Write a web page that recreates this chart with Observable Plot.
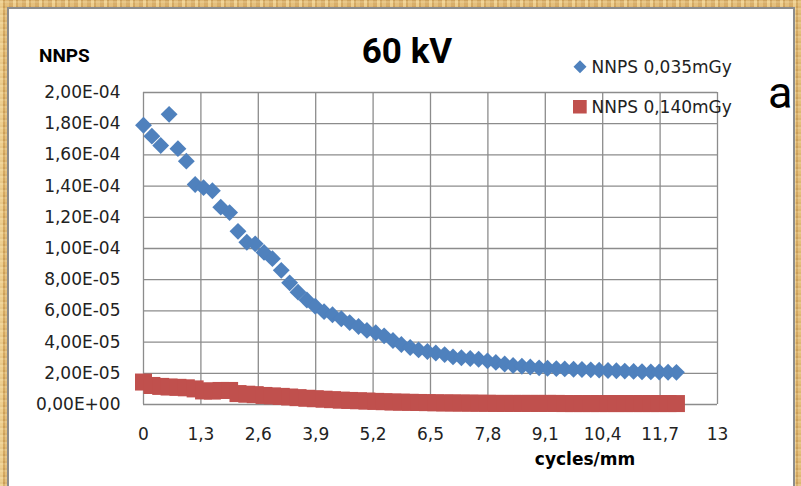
<!DOCTYPE html>
<html>
<head>
<meta charset="utf-8">
<script src="https://cdn.jsdelivr.net/npm/d3@7"></script>
<script src="https://cdn.jsdelivr.net/npm/@observablehq/plot@0.6"></script>
<style>
html, body { margin: 0; padding: 0; }
body {
  width: 801px; height: 486px; overflow: hidden;
  background-color: #dcb672;
  background-image:
    repeating-linear-gradient(90deg, rgba(250,225,165,0.55) 0 3px, rgba(190,140,65,0.35) 3px 5px, rgba(235,200,135,0.45) 5px 9px, rgba(200,150,80,0.3) 9px 13px),
    repeating-linear-gradient(0deg, rgba(250,232,185,0.35) 0 2px, rgba(180,130,60,0.25) 2px 4px, rgba(230,190,120,0.3) 4px 7px);
}
#wrap { position: relative; width: 801px; height: 486px; }
#panel {
  position: absolute; left: 7px; top: 7px; width: 788px; height: 479px;
  background: #fff; box-sizing: border-box;
  border-left: 2px solid #8c8c8c; border-top: 2px solid #8c8c8c; border-right: 2px solid #8c8c8c;
}
#chart, #overlay { position: absolute; left: 0; top: 0; }
</style>
</head>
<body>
<div id="wrap">
  <div id="panel"></div>
  <div id="chart"></div>
  <svg id="overlay" width="801" height="486"></svg>
</div>
<script>
// ---- data ----
const freq = [0, 0.19, 0.39, 0.58, 0.78, 0.97, 1.17, 1.36, 1.56, 1.75, 1.95, 2.14, 2.34, 2.53, 2.73, 2.92,
  3.12, 3.31, 3.50, 3.70, 3.89, 4.09, 4.28, 4.48, 4.67, 4.87, 5.06, 5.26, 5.45, 5.65, 5.84, 6.04, 6.23,
  6.43, 6.62, 6.82, 7.01, 7.20, 7.40, 7.59, 7.79, 7.98, 8.18, 8.37, 8.57, 8.76, 8.96, 9.15, 9.35, 9.54,
  9.74, 9.93, 10.13, 10.32, 10.52, 10.71, 10.90, 11.10, 11.29, 11.49, 11.68, 11.88, 12.07];

const nnps035 = [1.79e-4, 1.72e-4, 1.66e-4, 1.86e-4, 1.64e-4, 1.56e-4, 1.41e-4, 1.39e-4, 1.37e-4, 1.265e-4,
  1.23e-4, 1.11e-4, 1.04e-4, 1.03e-4, 0.975e-4, 0.935e-4, 0.86e-4, 0.78e-4, 0.72e-4, 0.67e-4, 0.63e-4,
  0.595e-4, 0.575e-4, 0.55e-4, 0.525e-4, 0.50e-4, 0.475e-4, 0.46e-4, 0.44e-4, 0.41e-4, 0.385e-4, 0.365e-4,
  0.35e-4, 0.34e-4, 0.33e-4, 0.32e-4, 0.305e-4, 0.30e-4, 0.295e-4, 0.29e-4, 0.28e-4, 0.27e-4, 0.26e-4,
  0.25e-4, 0.245e-4, 0.24e-4, 0.235e-4, 0.232e-4, 0.23e-4, 0.228e-4, 0.226e-4, 0.224e-4, 0.222e-4,
  0.22e-4, 0.218e-4, 0.216e-4, 0.214e-4, 0.212e-4, 0.21e-4, 0.209e-4, 0.208e-4, 0.207e-4, 0.206e-4];

const nnps140 = [1.44e-5, 1.22e-5, 1.16e-5, 1.12e-5, 1.10e-5, 1.07e-5, 1.00e-5, 0.87e-5, 0.86e-5, 0.90e-5,
  0.90e-5, 0.70e-5, 0.66e-5, 0.63e-5, 0.58e-5, 0.55e-5, 0.52e-5, 0.48e-5, 0.44e-5, 0.40e-5, 0.37e-5,
  0.34e-5, 0.31e-5, 0.28e-5, 0.26e-5, 0.24e-5, 0.22e-5, 0.20e-5, 0.18e-5, 0.16e-5, 0.15e-5, 0.14e-5,
  0.13e-5, 0.12e-5, 0.11e-5, 0.10e-5, 0.10e-5, 0.09e-5, 0.09e-5, 0.08e-5, 0.08e-5, 0.07e-5, 0.07e-5,
  0.07e-5, 0.07e-5, 0.07e-5, 0.07e-5, 0.07e-5, 0.07e-5, 0.06e-5, 0.06e-5, 0.06e-5, 0.06e-5, 0.06e-5,
  0.06e-5, 0.06e-5, 0.06e-5, 0.06e-5, 0.06e-5, 0.06e-5, 0.06e-5, 0.06e-5, 0.06e-5];

const xTicks = [0, 1.3, 2.6, 3.9, 5.2, 6.5, 7.8, 9.1, 10.4, 11.7, 13];
const xTickLabels = ["0", "1,3", "2,6", "3,9", "5,2", "6,5", "7,8", "9,1", "10,4", "11,7", "13"];
const yTicks = [0, 2e-5, 4e-5, 6e-5, 8e-5, 1e-4, 1.2e-4, 1.4e-4, 1.6e-4, 1.8e-4, 2e-4];
const yTickLabels = ["0,00E+00", "2,00E-05", "4,00E-05", "6,00E-05", "8,00E-05", "1,00E-04",
  "1,20E-04", "1,40E-04", "1,60E-04", "1,80E-04", "2,00E-04"];

const seriesNames = ["NNPS 0,035mGy", "NNPS 0,140mGy"];
const seriesColors = ["#4F81BD", "#C0504D"];
const chartTitle = "60 kV";
const yTitle = "NNPS";
const xTitle = "cycles/mm";
const panelLetter = "a";

// ---- tables ----
const blue = freq.map((f, i) => ({f, v: nnps035[i]}));
const red = freq.map((f, i) => ({f, v: nnps140[i]}));
const xLab = new Map(xTicks.map((t, i) => [t, xTickLabels[i]]));
const yLab = new Map(yTicks.map((t, i) => [t, yTickLabels[i]]));

const gridStyle = {stroke: "#8c8c8c", strokeOpacity: 1, strokeWidth: 1.3};

const chart = Plot.plot({
  width: 801, height: 486,
  marginLeft: 143, marginRight: 84, marginTop: 92, marginBottom: 82,
  style: {background: "transparent", fontFamily: "'DejaVu Sans', sans-serif", fontSize: "17px", color: "#222", overflow: "visible"},
  x: {domain: [0, 13], label: null},
  y: {domain: [0, 2e-4], label: null},
  marks: [
    Plot.gridX(xTicks, gridStyle),
    Plot.gridY(yTicks, gridStyle),
    Plot.axisX(xTicks, {tickSize: 0, tickPadding: 23, tickFormat: d => xLab.get(d), label: null}),
    Plot.axisY(yTicks, {tickSize: 0, tickPadding: 23, tickFormat: d => yLab.get(d), label: null}),
    Plot.dot(blue, {x: "f", y: "v", symbol: "diamond2", r: 7.6, fill: seriesColors[0], stroke: "none"}),
    Plot.dot(red, {x: "f", y: "v", symbol: "square", r: 9.6, fill: seriesColors[1], stroke: "none"})
  ]
});
document.getElementById("chart").appendChild(chart);

// ---- titles, legend ----
const ov = d3.select("#overlay");
ov.append("text").attr("x", 407).attr("y", 63).attr("text-anchor", "middle")
  .style("font-family", "Roboto, sans-serif").style("font-weight", "bold").style("font-size", "35px")
  .attr("fill", "#000").text(chartTitle);
ov.append("text").attr("x", 39).attr("y", 61.7)
  .style("font-family", "Roboto, sans-serif").style("font-weight", "bold").style("font-size", "19px")
  .attr("fill", "#000").text(yTitle);
ov.append("text").attr("x", 585).attr("y", 465).attr("text-anchor", "middle")
  .style("font-family", "'DejaVu Sans', sans-serif").style("font-weight", "bold").style("font-size", "17px")
  .attr("fill", "#000").text(xTitle);
ov.append("text").attr("x", 768).attr("y", 108)
  .style("font-family", "Roboto, sans-serif").style("font-size", "45px")
  .attr("fill", "#000").text(panelLetter);

// legend swatches
ov.append("path").attr("d", "M580,60.2L586.5,66.7L580,73.2L573.5,66.7Z").attr("fill", seriesColors[0]);
ov.append("rect").attr("x", 573).attr("y", 100).attr("width", 13.7).attr("height", 13.5).attr("fill", seriesColors[1]);
ov.append("text").attr("x", 591.5).attr("y", 72.7)
  .style("font-family", "'DejaVu Sans', sans-serif").style("font-size", "17px")
  .attr("fill", "#222").text(seriesNames[0]);
ov.append("text").attr("x", 591.5).attr("y", 113.3)
  .style("font-family", "'DejaVu Sans', sans-serif").style("font-size", "17px")
  .attr("fill", "#222").text(seriesNames[1]);
</script>
</body>
</html>
